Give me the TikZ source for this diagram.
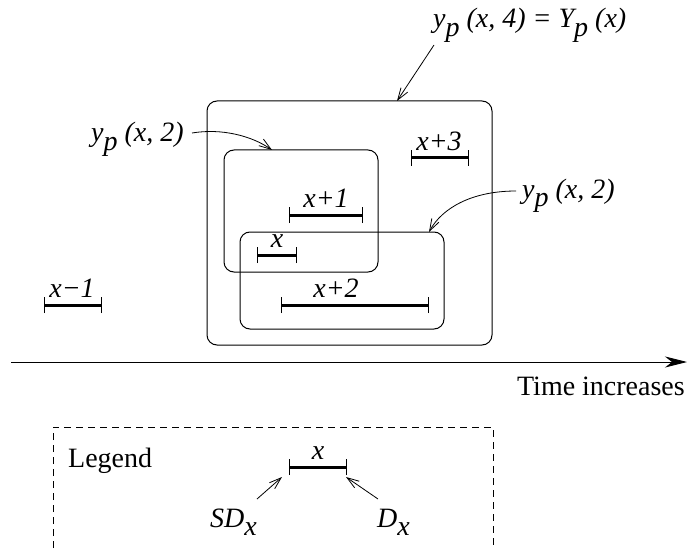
\documentclass[tikz,border=0pt]{standalone}
\usepackage{fontspec}
\setmainfont{Liberation Serif}[ItalicFont={Liberation Serif Italic}]
\usetikzlibrary{arrows.meta}
\newcommand\lbsub[1]{\raisebox{-0.3em}{#1}}
\begin{document}
\begin{tikzpicture}[x=1pt,y=-1pt,
  every node/.style={inner sep=0pt, font=\fontsize{28}{34}\selectfont},
  lab/.style={font=\fontsize{28}{34}\selectfont\itshape, anchor=base},
  box/.style={draw, line width=1pt, rounded corners=10pt, rectangle, inner sep=0pt},
  ivl/.style={line width=3pt},
  tickl/.style={line width=1pt},
  barb/.style={-{Straight Barb[length=12pt,width=8pt]}, line width=0.8pt},
]
\useasboundingbox (0,0) rectangle (687,548);

% boxes
\node[box, minimum width=285pt, minimum height=244pt] (outer) at (349.5,223) {};
\node[box, minimum width=154pt, minimum height=122pt] (upper) at (301,211) {};
\node[box, minimum width=204pt, minimum height=97pt] (lower) at (342,280.5) {};

% intervals
\coordinate (a1) at (44,305); \coordinate (a2) at (101,305);
\draw[ivl] (a1) -- (a2);
\draw[tickl] ([yshift=-8pt]a1) -- ([yshift=8pt]a1) ([yshift=-8pt]a2) -- ([yshift=8pt]a2);
\node[lab] (lxm1) at (72,297) {x−1};

\coordinate (b1) at (257,255); \coordinate (b2) at (296,255);
\draw[ivl] (b1) -- (b2);
\draw[tickl] ([yshift=-8pt]b1) -- ([yshift=8pt]b1) ([yshift=-8pt]b2) -- ([yshift=8pt]b2);
\node[lab] (lx) at (277,247) {x};

\coordinate (c1) at (289,215); \coordinate (c2) at (362,215);
\draw[ivl] (c1) -- (c2);
\draw[tickl] ([yshift=-8pt]c1) -- ([yshift=8pt]c1) ([yshift=-8pt]c2) -- ([yshift=8pt]c2);
\node[lab] (lxp1) at (326,207) {x+1};

\coordinate (d1) at (281,305); \coordinate (d2) at (428,305);
\draw[ivl] (d1) -- (d2);
\draw[tickl] ([yshift=-8pt]d1) -- ([yshift=8pt]d1) ([yshift=-8pt]d2) -- ([yshift=8pt]d2);
\node[lab] (lxp2) at (336,297) {x+2};

\coordinate (e1) at (411,158); \coordinate (e2) at (468,158);
\draw[ivl] (e1) -- (e2);
\draw[tickl] ([yshift=-8pt]e1) -- ([yshift=8pt]e1) ([yshift=-8pt]e2) -- ([yshift=8pt]e2);
\node[lab] (lxp3) at (439,150) {x+3};

% labels with arrows
\node[lab, anchor=base west] (t4) at (433,28) {y\lbsub{p} (x, 4) = Y\lbsub{p} (x)};
\coordinate (t4s) at (434,45);
\coordinate (t4e) at (397,101);
\draw[barb] (t4s) -- (t4e);

\node[lab, anchor=base west] (l2) at (91,142) {y\lbsub{p} (x, 2)};
\coordinate (l2s) at (192,133);
\coordinate (l2e) at (272,150);
\draw[barb] (l2s) .. controls (222,128) and (252,136) .. (l2e);

\node[lab, anchor=base west] (r2) at (522,198) {y\lbsub{p} (x, 2)};
\coordinate (r2s) at (516,191);
\coordinate (r2e) at (429,232);
\draw[barb] (r2s) .. controls (472,191) and (442,208) .. (r2e);

% time axis
\coordinate (axs) at (11,362);
\coordinate (axe) at (687,362);
\draw[line width=0.9pt, -{Stealth[length=22pt,width=11pt,inset=7pt]}] (axs) -- (axe);
\node[anchor=base east] (time) at (685,395) {Time increases};

% legend
\coordinate (g1) at (53,548); \coordinate (g2) at (53,427);
\coordinate (g3) at (493,427); \coordinate (g4) at (493,548);
\draw[line width=0.8pt, dash pattern=on 7pt off 5pt] (g1) -- (g2) -- (g3) -- (g4);
\node[anchor=base west] (leg) at (68,467) {Legend};

\coordinate (f1) at (289,467); \coordinate (f2) at (346,467);
\draw[ivl] (f1) -- (f2);
\draw[tickl] ([yshift=-8pt]f1) -- ([yshift=8pt]f1) ([yshift=-8pt]f2) -- ([yshift=8pt]f2);
\node[lab] (lgx) at (318,459) {x};

\node[lab, anchor=base west] (sd) at (210,527) {SD\lbsub{x}};
\node[lab, anchor=base west] (dx) at (377,527) {D\lbsub{x}};
\coordinate (sda) at (257,499); \coordinate (sdb) at (282,477);
\coordinate (dxa) at (378,499); \coordinate (dxb) at (346,477);
\draw[barb] (sda) -- (sdb);
\draw[barb] (dxa) -- (dxb);
\end{tikzpicture}
\end{document}
